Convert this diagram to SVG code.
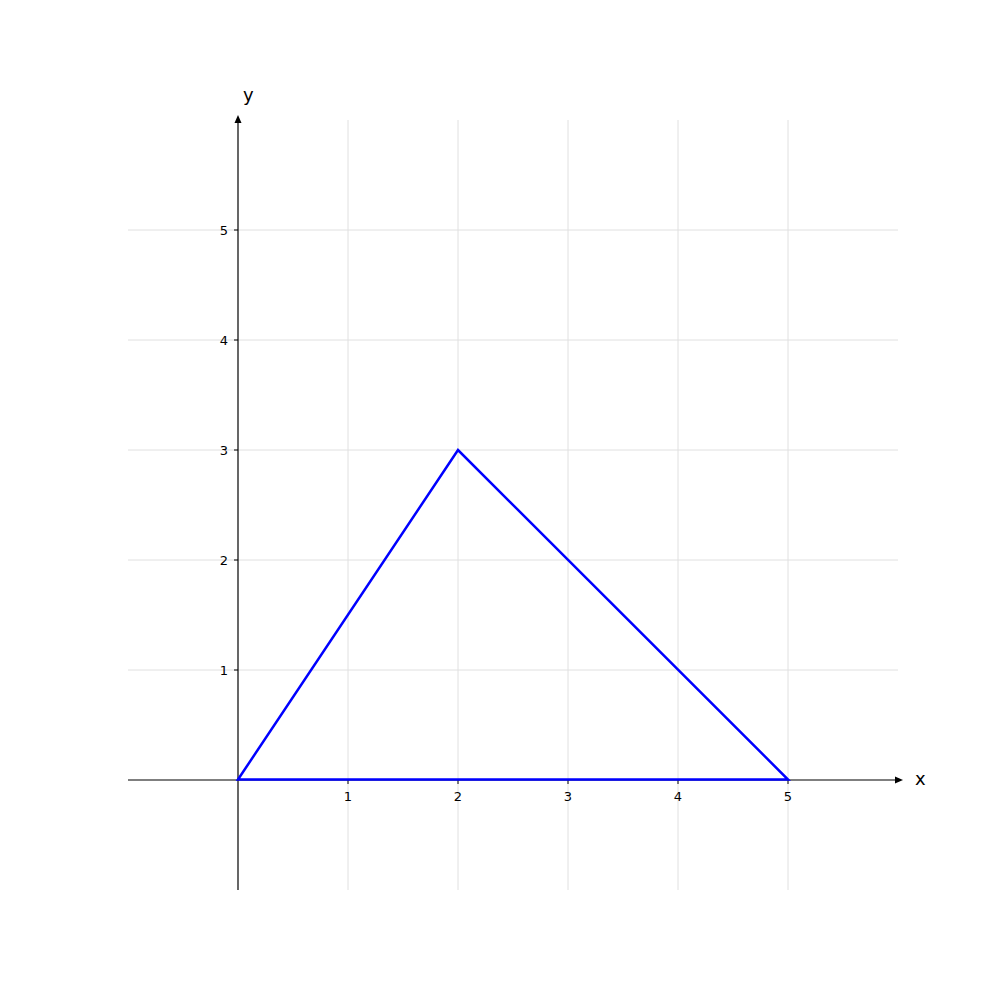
<svg xmlns="http://www.w3.org/2000/svg" width="1000" height="1000" viewBox="0 0 1000 1000">
<style>
.grid{stroke:#e0e0e0;stroke-width:1}
.axis{stroke:#000;stroke-width:1.2}
.tick{stroke:#000;stroke-width:1}
.tl{font-family:"DejaVu Sans",sans-serif;font-size:13px;fill:#000}
.al{font-family:"DejaVu Sans",sans-serif;font-size:18px;fill:#000}
</style>
<rect width="1000" height="1000" fill="#fff"/>
<g id="grid">
<line class="grid" x1="348" y1="120" x2="348" y2="890"/>
<line class="grid" x1="458" y1="120" x2="458" y2="890"/>
<line class="grid" x1="568" y1="120" x2="568" y2="890"/>
<line class="grid" x1="678" y1="120" x2="678" y2="890"/>
<line class="grid" x1="788" y1="120" x2="788" y2="890"/>
<line class="grid" x1="128" y1="670" x2="898" y2="670"/>
<line class="grid" x1="128" y1="560" x2="898" y2="560"/>
<line class="grid" x1="128" y1="450" x2="898" y2="450"/>
<line class="grid" x1="128" y1="340" x2="898" y2="340"/>
<line class="grid" x1="128" y1="230" x2="898" y2="230"/>
</g>
<g id="axes">
<line class="axis" x1="128" y1="780" x2="896" y2="780"/>
<polygon points="903,780 895,776.5 895,783.5" fill="#000"/>
<line class="axis" x1="238" y1="890" x2="238" y2="122"/>
<polygon points="238,115 234.5,123 241.5,123" fill="#000"/>
<text class="al" x="915" y="785">x</text>
<text class="al" x="243" y="101">y</text>
</g>
<g id="ticks">
<line class="tick" x1="348" y1="780" x2="348" y2="784"/>
<line class="tick" x1="458" y1="780" x2="458" y2="784"/>
<line class="tick" x1="568" y1="780" x2="568" y2="784"/>
<line class="tick" x1="678" y1="780" x2="678" y2="784"/>
<line class="tick" x1="788" y1="780" x2="788" y2="784"/>
<line class="tick" x1="234" y1="670" x2="238" y2="670"/>
<line class="tick" x1="234" y1="560" x2="238" y2="560"/>
<line class="tick" x1="234" y1="450" x2="238" y2="450"/>
<line class="tick" x1="234" y1="340" x2="238" y2="340"/>
<line class="tick" x1="234" y1="230" x2="238" y2="230"/>
<g class="tl" text-anchor="middle">
<text x="348" y="801">1</text>
<text x="458" y="801">2</text>
<text x="568" y="801">3</text>
<text x="678" y="801">4</text>
<text x="788" y="801">5</text>
</g>
<g class="tl" text-anchor="end">
<text x="228" y="675">1</text>
<text x="228" y="565">2</text>
<text x="228" y="455">3</text>
<text x="228" y="345">4</text>
<text x="228" y="235">5</text>
</g>
</g>
<g id="triangle">
<polygon points="238,779.5 458,450 788,779.5" fill="none" stroke="#0000ff" stroke-width="2.5" stroke-linejoin="miter"/>
</g>
</svg>
